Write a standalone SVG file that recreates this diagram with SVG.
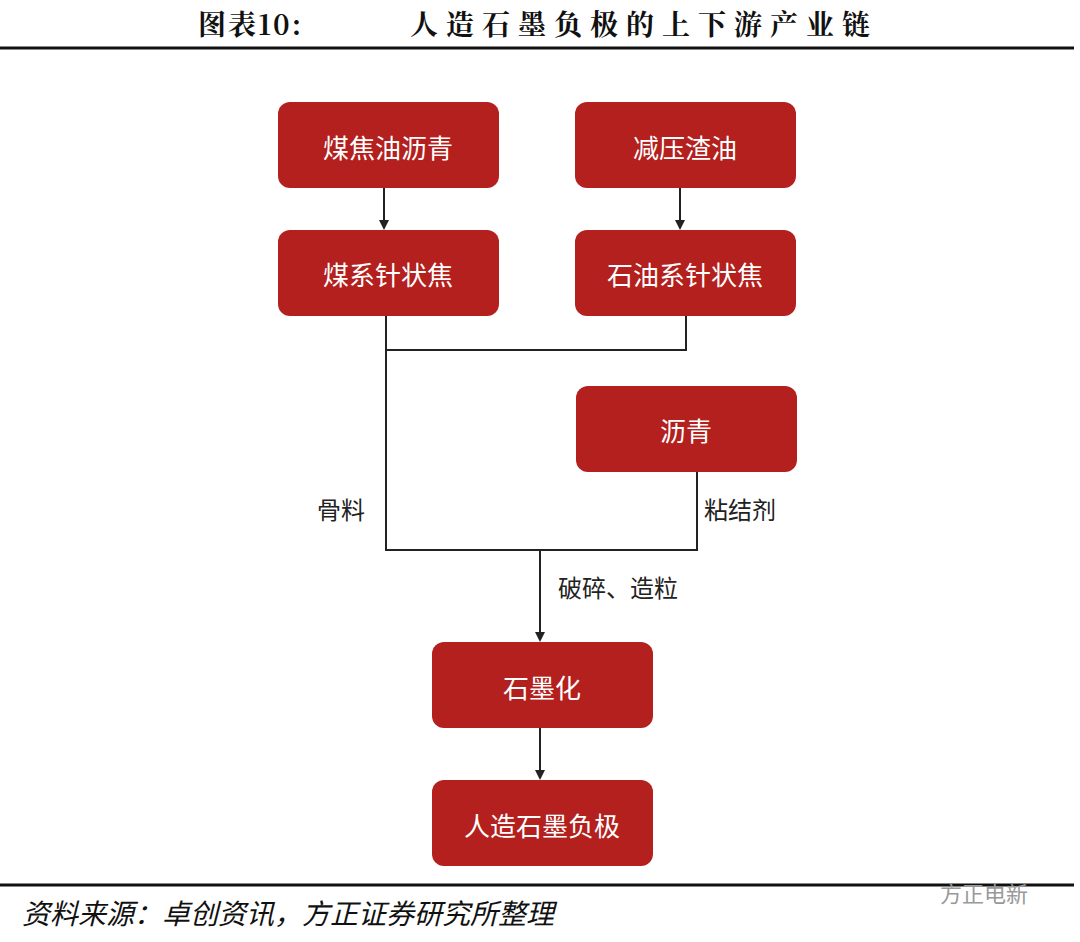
<svg xmlns="http://www.w3.org/2000/svg" width="1080" height="942" viewBox="0 0 1080 942">
<defs>
<style>
.n{fill:#b3201d}
.t{font-family:"Noto Sans CJK SC",sans-serif;font-size:26px;fill:#fff;text-anchor:middle;dominant-baseline:central}
.l{font-family:"Noto Sans CJK SC",sans-serif;font-size:24px;fill:#222}
.c{stroke:#222;stroke-width:2;fill:none}
.h{font-family:"Noto Serif CJK SC","Noto Sans CJK SC",serif;font-size:28px;font-weight:bold;fill:#111}
</style>
<marker id="a" markerWidth="10" markerHeight="10" refX="8" refY="5" orient="auto" markerUnits="userSpaceOnUse"><path d="M0,0L10,5L0,10z" fill="#222"/></marker>
</defs>
<rect width="1080" height="942" fill="#fff"/>
<text class="h" x="198" y="35" letter-spacing="2">图表10:</text>
<text class="h" x="410" y="35" letter-spacing="8">人造石墨负极的上下游产业链</text>
<line x1="0" y1="48" x2="1074" y2="48" stroke="#111" stroke-width="3"/>
<g id="connectors">
<line class="c" x1="384" y1="188" x2="384" y2="228" marker-end="url(#a)"/>
<line class="c" x1="680" y1="188" x2="680" y2="228" marker-end="url(#a)"/>
<polyline class="c" points="386,316 386,350 686,350 686,316"/>
<polyline class="c" points="386,350 386,550 697,550 697,472"/>
<line class="c" x1="540" y1="550" x2="540" y2="640" marker-end="url(#a)"/>
<line class="c" x1="540" y1="728" x2="540" y2="778" marker-end="url(#a)"/>
<text class="l" x="317" y="519">骨料</text>
<text class="l" x="704" y="519">粘结剂</text>
<text class="l" x="558" y="597">破碎、造粒</text>
</g>
<g id="n1"><rect class="n" x="278" y="102" width="221" height="86" rx="12"/><text class="t" x="388" y="146">煤焦油沥青</text></g>
<g id="n2"><rect class="n" x="575" y="102" width="221" height="86" rx="12"/><text class="t" x="685" y="146">减压渣油</text></g>
<g id="n3"><rect class="n" x="278" y="230" width="221" height="86" rx="12"/><text class="t" x="388" y="273">煤系针状焦</text></g>
<g id="n4"><rect class="n" x="575" y="230" width="221" height="86" rx="12"/><text class="t" x="685" y="273">石油系针状焦</text></g>
<g id="n5"><rect class="n" x="576" y="386" width="221" height="86" rx="12"/><text class="t" x="686" y="429">沥青</text></g>
<g id="n6"><rect class="n" x="432" y="642" width="221" height="86" rx="12"/><text class="t" x="542" y="686">石墨化</text></g>
<g id="n7"><rect class="n" x="432" y="780" width="221" height="86" rx="12"/><text class="t" x="542" y="824">人造石墨负极</text></g>
<line x1="0" y1="885" x2="1074" y2="885" stroke="#111" stroke-width="3"/>
<text x="22" y="924" font-family="'Noto Sans CJK SC',sans-serif" font-size="28" font-style="italic" fill="#111">资料来源：卓创资讯，方正证券研究所整理</text>
<text x="940" y="902" font-family="'Noto Sans CJK SC',sans-serif" font-size="22" fill="#999">方正电新</text>
</svg>
